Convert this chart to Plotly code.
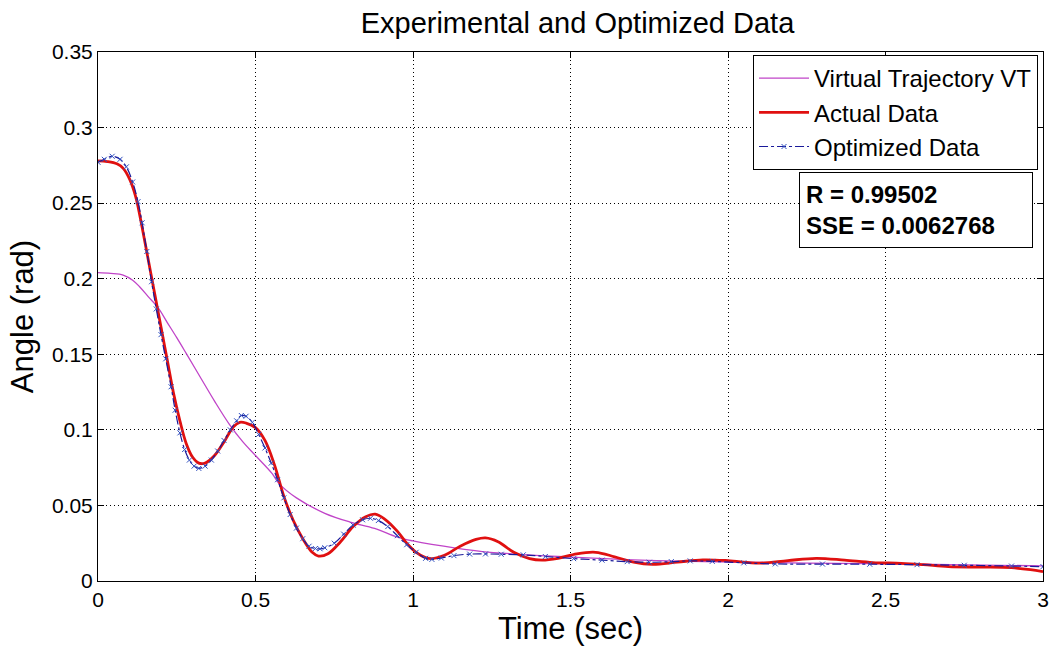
import plotly.graph_objects as go

# ---- data ----
t_vt = [0, 0.04, 0.08, 0.11, 0.132, 0.16, 0.19, 0.22, 0.25, 0.28, 0.33, 0.37, 0.416, 0.46, 0.5,
        0.553, 0.574, 0.63, 0.72, 0.8, 0.878, 0.95, 1.0, 1.141, 1.22, 1.35, 1.485, 1.7, 1.88,
        2.2, 2.55, 3.0]
y_vt = [0.204, 0.2035, 0.2024, 0.199, 0.1947, 0.188, 0.181, 0.171, 0.161, 0.1506, 0.133, 0.119,
        0.104, 0.092, 0.083, 0.071, 0.0646, 0.055, 0.0448, 0.039, 0.0348, 0.029, 0.0265, 0.0216,
        0.0195, 0.0175, 0.016, 0.014, 0.013, 0.012, 0.0113, 0.010]

t_act = [0, 0.03, 0.06, 0.08, 0.1, 0.12, 0.14, 0.16, 0.18, 0.2, 0.22, 0.24, 0.26, 0.28, 0.30,
         0.32, 0.34, 0.37, 0.40, 0.43, 0.45, 0.47, 0.50, 0.53, 0.56, 0.59, 0.62, 0.65, 0.68, 0.70,
         0.73, 0.77, 0.81, 0.85, 0.88, 0.91, 0.95, 0.98, 1.01, 1.04, 1.06, 1.10, 1.15, 1.20, 1.23,
         1.27, 1.32, 1.37, 1.41, 1.46, 1.52, 1.58, 1.64, 1.70, 1.76, 1.84, 1.92, 2.00, 2.10, 2.19,
         2.28, 2.37, 2.46, 2.55, 2.62, 2.70, 2.80, 2.90, 2.96, 3.00]
y_act = [0.278, 0.2775, 0.276, 0.273, 0.266, 0.254, 0.234, 0.212, 0.190, 0.168, 0.146, 0.124,
         0.106, 0.091, 0.082, 0.078, 0.078, 0.083, 0.092, 0.102, 0.105, 0.1045, 0.1015, 0.093,
         0.077, 0.056, 0.040, 0.028, 0.019, 0.0165, 0.018, 0.026, 0.036, 0.0425, 0.0442, 0.041,
         0.033, 0.025, 0.019, 0.0155, 0.0148, 0.017, 0.023, 0.0275, 0.0285, 0.026, 0.019, 0.0148,
         0.0138, 0.015, 0.018, 0.019, 0.016, 0.0125, 0.011, 0.0125, 0.014, 0.0135, 0.0118, 0.0135,
         0.0150, 0.0138, 0.0122, 0.0117, 0.0108, 0.0095, 0.0092, 0.0088, 0.0075, 0.0062]

t_opt = [0, 0.02, 0.045, 0.07, 0.09, 0.11, 0.127, 0.14, 0.155, 0.17, 0.185, 0.2, 0.215, 0.232,
         0.245, 0.26, 0.275, 0.29, 0.305, 0.32, 0.34, 0.36, 0.38, 0.40, 0.42, 0.44, 0.455, 0.47,
         0.49, 0.51, 0.53, 0.55, 0.57, 0.59, 0.61, 0.63, 0.65, 0.67, 0.69, 0.705, 0.72, 0.75, 0.78,
         0.81, 0.84, 0.865, 0.89, 0.92, 0.95, 0.98, 1.01, 1.04, 1.06, 1.09, 1.13, 1.18, 1.23, 1.28,
         1.35, 1.42, 1.51, 1.6, 1.68, 1.75, 1.82, 1.88, 1.95, 2.05, 2.15, 2.3, 2.45, 2.6, 2.75,
         2.9, 3.0]
y_opt = [0.277, 0.279, 0.281, 0.279, 0.274, 0.264, 0.251, 0.237, 0.218, 0.198, 0.180, 0.163,
         0.147, 0.1285, 0.113, 0.098, 0.087, 0.080, 0.076, 0.0745, 0.076, 0.080, 0.086, 0.093,
         0.100, 0.106, 0.1095, 0.109, 0.105, 0.097, 0.088, 0.078, 0.067, 0.055, 0.044, 0.035,
         0.028, 0.023, 0.0215, 0.0213, 0.022, 0.025, 0.031, 0.037, 0.0405, 0.0415, 0.040, 0.036,
         0.030, 0.024, 0.019, 0.015, 0.0143, 0.0152, 0.0168, 0.0178, 0.0179, 0.0177, 0.0173,
         0.0162, 0.0148, 0.0138, 0.0128, 0.0124, 0.0128, 0.0133, 0.013, 0.012, 0.0113, 0.0112,
         0.0111, 0.0108, 0.0104, 0.0099, 0.0095]

x_ticks = [0, 0.5, 1, 1.5, 2, 2.5, 3]
x_labels = ["0", "0.5", "1", "1.5", "2", "2.5", "3"]
y_ticks = [0, 0.05, 0.1, 0.15, 0.2, 0.25, 0.3, 0.35]
y_labels = ["0", "0.05", "0.1", "0.15", "0.2", "0.25", "0.3", "0.35"]

FONT = "Liberation Sans, Arial, sans-serif"
L, R, T, B = 98, 13, 52, 69
PW, PH = 1061 - L - R, 650 - T - B

fig = go.Figure()
fig.add_trace(go.Scatter(x=t_vt, y=y_vt, mode="lines", name="Virtual Trajectory VT",
                         line=dict(color="#c044c8", width=1.3, shape="spline")))
fig.add_trace(go.Scatter(x=t_act, y=y_act, mode="lines", name="Actual Data",
                         line=dict(color="#e01010", width=2.8, shape="spline")))
fig.add_trace(go.Scatter(x=t_opt, y=y_opt, mode="lines+markers", name="Optimized Data",
                         line=dict(color="#1a1a9a", width=1.2, dash="dashdot", shape="spline"),
                         marker=dict(symbol="x-thin", size=5, color="#3050c0",
                                     line=dict(width=1, color="#3050c0"))))

fig.update_layout(
    width=1061, height=650,
    margin=dict(l=L, r=R, t=T, b=B),
    paper_bgcolor="white", plot_bgcolor="white",
    font=dict(family=FONT, color="black", size=21),
    title=dict(text="Experimental and Optimized Data", xref="paper", x=(580 - L) / PW,
               xanchor="center", yref="container", y=1 - 23 / 650, yanchor="middle",
               font=dict(size=29, family=FONT)),
    showlegend=True,
    legend=dict(x=(1043 - L) / PW, xanchor="right", y=(650 - B - 55) / PH, yanchor="top",
                bgcolor="white", bordercolor="black", borderwidth=1,
                font=dict(size=24, family=FONT), itemwidth=50,
                tracegroupgap=0),
)
fig.update_xaxes(range=[0, 3], tickvals=x_ticks, ticktext=x_labels,
                 showline=True, linecolor="black", linewidth=1, mirror="ticks",
                 ticks="inside", ticklen=6, tickcolor="black",
                 showgrid=True, gridcolor="black", gridwidth=1, griddash="1px,3px",
                 zeroline=False, tickfont=dict(size=21),
                 title=dict(text="Time (sec)", font=dict(size=31), standoff=0))
fig.update_yaxes(range=[0, 0.35], tickvals=y_ticks, ticktext=y_labels,
                 showline=True, linecolor="black", linewidth=1, mirror="ticks",
                 ticks="inside", ticklen=6, tickcolor="black",
                 showgrid=True, gridcolor="black", gridwidth=1, griddash="1px,3px",
                 zeroline=False, tickfont=dict(size=21),
                 title=dict(text="Angle (rad)", font=dict(size=31), standoff=9))

fig.add_annotation(xref="paper", yref="paper", x=(803 - L) / PW, y=(650 - B - 172) / PH,
                   xanchor="left", yanchor="top", align="left", valign="middle",
                   showarrow=False, width=220, height=62,
                   text="<b>R = 0.99502</b><br><b>SSE = 0.0062768</b>",
                   font=dict(size=24, family=FONT), bgcolor="white",
                   bordercolor="black", borderwidth=1, borderpad=6)

fig.write_html("out.html")
